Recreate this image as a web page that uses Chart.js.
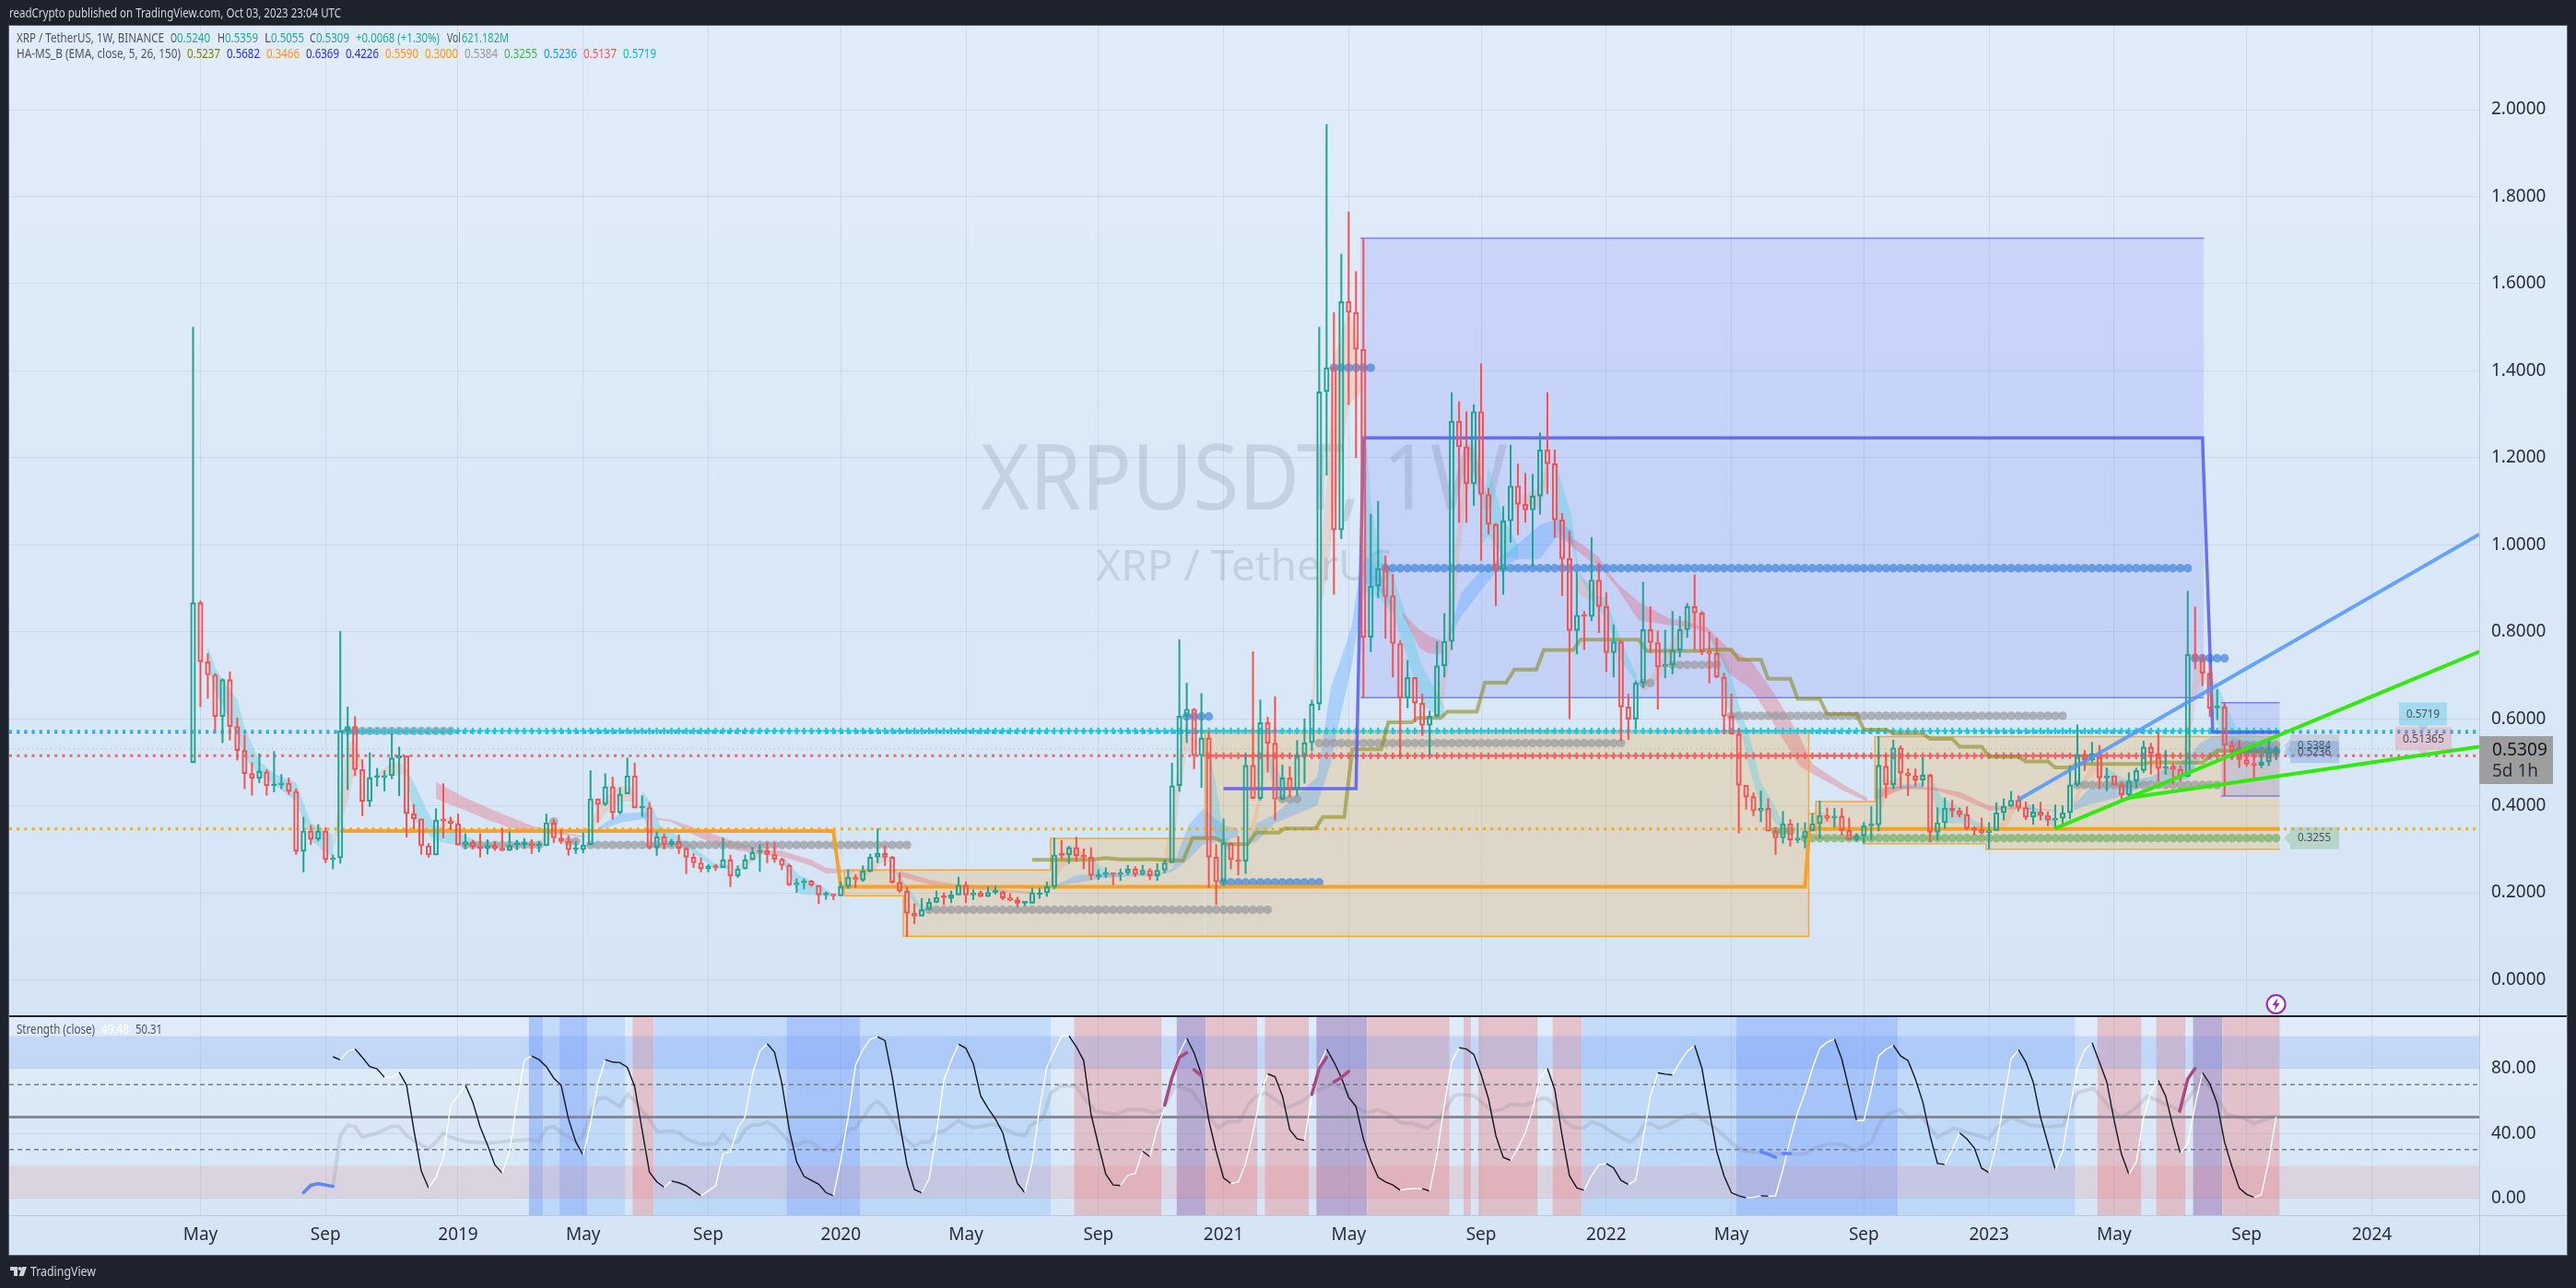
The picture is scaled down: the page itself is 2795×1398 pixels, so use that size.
<!DOCTYPE html>
<html>
<head>
<meta charset="utf-8">
<title>XRPUSDT 1W</title>
<script src="https://cdn.jsdelivr.net/npm/chart.js@4/dist/chart.umd.min.js"></script>
<style>
  html, body { margin: 0; padding: 0; background: #1e222d; }
  canvas { display: block; }
</style>
</head>
<body>
<canvas id="chart" width="2795" height="1398"></canvas>
<script>
// Weekly candles, one value per week starting with the first Binance week
const opens = [
  .499,.867,.731,.701,.605,.690,.582,.527,.474,.463,
  .478,.446,.448,.452,.433,.295,.342,.323,.342,.276,
  .280,.572,.582,.483,.410,.465,.465,.469,.510,.515,
  .382,.370,.308,.287,.368,.365,.359,.310,.316,.306,
  .302,.309,.302,.297,.310,.311,.313,.308,.308,.361,
  .326,.318,.299,.299,.310,.416,.403,.444,.384,.427,
  .469,.395,.396,.304,.329,.311,.318,.302,.282,.269,
  .255,.261,.258,.276,.239,.255,.276,.293,.297,.288,
  .277,.263,.218,.223,.227,.217,.195,.196,.193,.214,
  .236,.229,.249,.282,.291,.282,.224,.204,.153,.146,
  .161,.178,.190,.187,.195,.218,.195,.200,.191,.201,
  .202,.188,.184,.176,.176,.200,.200,.214,.287,.287,
  .304,.284,.282,.241,.242,.246,.242,.246,.255,.242,
  .252,.239,.252,.269,.446,.606,.622,.515,.556,.282,
  .225,.314,.276,.272,.493,.417,.591,.544,.415,.464,
  .438,.515,.545,.634,1.352,1.407,1.034,1.559,1.534,1.449,
  .787,.905,.946,.883,.773,.648,.695,.636,.585,.606,
  .722,.778,1.284,1.225,1.140,1.306,1.116,1.047,.943,1.055,
  1.135,1.093,1.080,1.112,1.218,1.186,1.057,.968,.803,.838,
  .835,.919,.858,.752,.777,.627,.599,.682,.805,.775,
  .720,.724,.758,.805,.858,.843,.754,.750,.696,.606,
  .565,.447,.421,.388,.394,.342,.326,.359,.321,.326,
  .342,.359,.378,.372,.376,.343,.322,.331,.354,.356,
  .491,.448,.533,.475,.469,.459,.471,.339,.361,.395,
  .388,.380,.350,.345,.338,.343,.384,.399,.413,.396,
  .374,.386,.378,.367,.371,.384,.448,.518,.505,.520,
  .464,.469,.448,.425,.457,.481,.535,.520,.486,.491,
  .484,.467,.748,.739,.705,.625,.627,.539,.525,.506,
  .497,.493,.501,.524];
const closes = [
  .867,.731,.701,.605,.690,.582,.527,.474,.463,.480,
  .446,.448,.452,.433,.295,.342,.323,.342,.276,.280,
  .572,.582,.483,.410,.465,.466,.469,.510,.515,.382,
  .370,.308,.287,.367,.365,.359,.310,.316,.306,.302,
  .309,.302,.297,.309,.311,.313,.308,.309,.361,.326,
  .318,.299,.300,.310,.416,.403,.444,.384,.427,.469,
  .395,.396,.304,.329,.311,.318,.302,.282,.269,.255,
  .262,.258,.276,.239,.255,.276,.293,.297,.288,.277,
  .263,.218,.223,.227,.217,.195,.196,.193,.214,.236,
  .231,.250,.282,.291,.282,.224,.204,.153,.146,.161,
  .178,.189,.189,.195,.218,.195,.200,.191,.201,.202,
  .188,.184,.176,.177,.200,.200,.214,.287,.286,.304,
  .285,.282,.240,.241,.246,.242,.246,.255,.242,.252,
  .239,.252,.269,.446,.606,.622,.515,.556,.282,.225,
  .314,.276,.272,.493,.417,.591,.544,.415,.464,.438,
  .515,.545,.634,1.352,1.407,1.034,1.559,1.534,1.449,.787,
  .905,.946,.881,.773,.648,.695,.636,.585,.606,.722,
  .778,1.284,1.225,1.140,1.306,1.116,1.047,.943,1.055,1.135,
  1.093,1.080,1.112,1.218,1.186,1.057,.968,.803,.838,.835,
  .919,.858,.752,.777,.627,.599,.682,.805,.775,.719,
  .725,.758,.805,.858,.843,.754,.750,.696,.606,.565,
  .447,.420,.388,.394,.342,.326,.359,.321,.326,.342,
  .359,.378,.372,.376,.343,.322,.331,.354,.356,.493,
  .448,.533,.475,.469,.459,.471,.339,.361,.395,.388,
  .379,.348,.345,.338,.343,.384,.399,.413,.396,.374,
  .386,.378,.367,.371,.384,.448,.518,.505,.520,.464,
  .469,.448,.425,.457,.481,.535,.520,.486,.490,.484,
  .467,.748,.739,.705,.624,.627,.539,.525,.506,.496,
  .493,.501,.524,.5309];
const highs = [
  1.5,.871,.750,.704,.692,.708,.602,.563,.499,.520,
  .483,.525,.472,.464,.439,.374,.355,.357,.350,.287,
  .801,.627,.605,.506,.522,.486,.481,.566,.535,.515,
  .403,.370,.313,.393,.451,.374,.381,.336,.321,.336,
  .322,.318,.348,.340,.321,.325,.322,.318,.381,.368,
  .345,.331,.318,.338,.481,.416,.474,.466,.442,.510,
  .498,.423,.408,.340,.336,.323,.333,.304,.290,.280,
  .265,.265,.326,.287,.262,.287,.304,.311,.315,.315,
  .280,.266,.232,.232,.229,.217,.202,.197,.225,.253,
  .242,.262,.289,.347,.308,.284,.246,.214,.175,.187,
  .187,.204,.200,.204,.236,.225,.207,.204,.214,.215,
  .204,.198,.190,.180,.211,.211,.225,.326,.320,.307,
  .328,.301,.304,.253,.258,.246,.255,.263,.260,.263,
  .256,.267,.276,.498,.782,.682,.624,.658,.570,.311,
  .370,.315,.329,.519,.754,.643,.604,.651,.494,.490,
  .550,.600,.643,1.50,1.966,1.534,1.668,1.765,1.628,1.705,
  1.070,1.10,.975,.932,.780,.734,.695,.657,.618,.777,
  .842,1.35,1.329,1.306,1.322,1.416,1.13,1.049,1.088,1.229,
  1.186,1.164,1.162,1.257,1.35,1.218,1.072,1.031,.936,.847,
  1.017,.957,.89,.816,.78,.657,.687,.914,.858,.802,
  .804,.847,.835,.865,.931,.847,.799,.785,.705,.657,
  .578,.447,.430,.434,.416,.350,.387,.368,.360,.361,
  .382,.411,.395,.394,.394,.372,.336,.362,.398,.559,
  .517,.551,.538,.485,.485,.511,.473,.396,.418,.413,
  .395,.398,.352,.372,.361,.407,.416,.433,.423,.409,
  .403,.408,.386,.402,.400,.492,.586,.527,.546,.539,
  .487,.469,.453,.476,.487,.549,.544,.568,.527,.497,
  .492,.893,.857,.747,.722,.667,.637,.549,.550,.520,
  .517,.517,.552,.5359];
const lows = [
  .499,.628,.647,.573,.545,.551,.505,.439,.424,.453,
  .424,.432,.439,.426,.288,.248,.311,.319,.269,.255,
  .268,.437,.469,.377,.398,.445,.434,.462,.423,.328,
  .347,.288,.282,.287,.326,.345,.310,.301,.301,.282,
  .289,.297,.296,.297,.299,.303,.290,.294,.308,.315,
  .313,.286,.290,.292,.310,.362,.400,.369,.381,.427,
  .395,.375,.301,.286,.301,.307,.290,.244,.258,.248,
  .248,.251,.258,.214,.235,.255,.276,.249,.269,.270,
  .253,.216,.201,.209,.215,.175,.185,.184,.193,.210,
  .212,.226,.248,.269,.262,.222,.201,.100,.129,.146,
  .161,.177,.173,.177,.195,.177,.184,.191,.191,.197,
  .184,.181,.168,.171,.176,.187,.192,.209,.279,.267,
  .272,.255,.230,.230,.235,.219,.228,.241,.237,.241,
  .230,.228,.246,.269,.433,.545,.485,.442,.212,.173,
  .216,.255,.241,.244,.417,.413,.477,.367,.413,.420,
  .424,.452,.526,.620,1.160,.886,1.014,1.322,1.200,.650,
  .754,.878,.785,.696,.513,.625,.593,.562,.516,.604,
  .696,.759,1.051,1.051,1.090,.964,1.024,.860,.886,1.006,
  1.023,1.052,.950,1.070,1.117,1.017,.883,.600,.749,.759,
  .825,.798,.708,.696,.549,.552,.579,.671,.752,.622,
  .694,.703,.742,.787,.759,.747,.682,.694,.565,.565,
  .337,.392,.377,.363,.342,.288,.314,.307,.315,.303,
  .342,.326,.365,.350,.333,.322,.319,.314,.322,.342,
  .418,.439,.440,.423,.445,.445,.317,.322,.348,.374,
  .374,.345,.333,.336,.301,.343,.367,.398,.388,.368,
  .357,.367,.354,.348,.354,.370,.445,.481,.500,.440,
  .434,.448,.411,.414,.442,.476,.473,.457,.472,.450,
  .457,.467,.715,.676,.605,.598,.423,.506,.488,.491,
  .460,.487,.492,.5055];

// Axis ticks (week numbers for the time axis)
const tickWeeks = [1,18,36,53,70,88,105,123,140,157,175,192,209,227,244,261,279,296];
const tickLabels = ['May','Sep','2019','May','Sep','2020','May','Sep','2021','May','Sep','2022','May','Sep','2023','May','Sep','2024'];
const priceTicks = [0,.2,.4,.6,.8,1,1.2,1.4,1.6,1.8,2];
const strengthTicks = [0,40,80];

// Horizontal levels running across the whole pane
const levelValues = [.5309,.3466,.515,.569,.572];
const crossCyanStart = 21, crossRedStart = 138, lastWeek = 283;

// Orange support boxes and outline
const orangeStart = [88.5,96.5,116.5,137.5,219.5,220.5,226.9,228.5,243.6];
const orangeEnd = [96.5,116.5,137.5,219.5,220.5,226.9,228.5,243.6,283.5];
const orangeTop = [.2527,.2527,.325,.568,.382,.41,.41,.559,.559];
const orangeBottom = [.193,.1,.1,.1,.325,.325,.313,.313,.30];
const orangeTopWeeks = [88.5,88.5,116.5,116.5,137.5,137.5,219.5,219.5,220.5,220.5,228.5,228.5,283.5];
const orangeTopValues = [.193,.2527,.2527,.325,.325,.568,.568,.382,.382,.41,.41,.559,.559];
const orangeLowWeeks = [88.5,96.5,96.5,219.5,219.5];
const orangeLowValues = [.193,.193,.1,.1,.382];
const orangeLow2Weeks = [220.5,220.5,226.9,226.9,243.6,243.6,283.5];
const orangeLow2Values = [.41,.325,.325,.313,.313,.30,.30];

// Blue resistance boxes
const blueStart = [158.6,275.5];
const blueEnd = [273.2,283.5];
const blueTop = [1.705,.637];
const blueBottom = [.6484,.4226];

// Thick steps
const thickOrangeWeeks = [20,87,88,219,219.6,283.5];
const thickOrangeValues = [.342,.342,.214,.214,.3466,.3466];
const thickBlueWeeks = [140,158,159,273,274.4,283.5];
const thickBlueValues = [.4395,.4395,1.2456,1.2456,.569,.569];
const oliveWeeks = [114,122,124,126,130,134.5,135.8,138.8,140.5,143.3,144.4,147.5,148.3,152.5,153.5,156.4,157.5,161.4,162.4,165.6,166.4,169.5,170.4,174.4,175.5,178.4,179.5,182.5,183.5,187.5,188.5,196.4,197.5,205,206,209,210,213,214,217,218,221,222,226,227,230,231,235,236,239,240,243,244,248,249,252,253,255,256,265,266,273,275,283.5];
const oliveValues = [.276,.276,.280,.277,.277,.274,.326,.326,.312,.312,.338,.338,.348,.348,.374,.374,.530,.530,.592,.592,.602,.602,.616,.616,.683,.683,.713,.713,.758,.758,.782,.782,.756,.756,.759,.759,.736,.736,.692,.692,.646,.646,.611,.611,.575,.575,.566,.566,.554,.554,.536,.536,.513,.513,.502,.502,.488,.488,.496,.496,.500,.499,.527,.5237];

// Dot rows: first week, last week, price
const blueDotStart = [135,155,162,140,272,278];
const blueDotEnd = [138,160,271,153,276,283];
const blueDotValue = [.605,1.407,.946,.224,.739,.526];
const grayDotStart = [21,37,49,51,54,100,148,153,197,201,209,256,277];
const grayDotEnd = [35,47,49,52,97,146,150,194,198,207,254,275,283];
const grayDotValue = [.572,.310,.364,.318,.310,.161,.415,.544,.682,.724,.607,.448,.540];
const greenDotStart = [215,219];
const greenDotEnd = [217,283];
const greenDotValue = [.342,.3255];

// Ribbon pieces: cyan = fast falling, tan = fast rising, pink = slow falling, blue = slow rising
const cyanWeeks = [[2,3,4,6,7,9,11,14,16,19],[28.9,30,32.8,36.7,39.2],[61,62.1,63.5,66.9,70.8,73],[80.2,82.3,84.4,87.3],[94.4,96.9,98.6,99.8],[122.4,124,126.1],[138,139,140,141],[146,147,148.5],[159,160,161,163,165,167,170],[175,176,178,180],[185.3,187.3,188.3,190.6,192,194,196.2],[206.2,208.4,210.1,211.7,213,215,216.3],[236.3,237.6,240.1,241.8,244.2],[248.9,251,253],[259.7,261.8,263.5],[273.5,275.2,276.6,277.8,282.6]];
const cyanUpper = [[.768,.719,.69,.644,.581,.503,.474,.453,.361,.333],[.488,.453,.354,.333,.315],[.435,.41,.354,.318,.269,.262],[.283,.241,.226,.195],[.280,.219,.177,.163],[.276,.248,.241],[.53,.45,.33,.32],[.537,.49,.45],[1.36,1.10,1.0,.93,.83,.72,.63],[1.06,1.18,1.06,1.0],[1.179,1.066,.939,.883,.879,.777,.699],[.791,.733,.629,.544,.453,.396,.347],[.46,.418,.396,.368,.347],[.41,.389,.368],[.492,.467,.453],[.711,.672,.616,.573,.552]];
const cyanLower = [[.72,.66,.63,.56,.51,.47,.45,.41,.32,.28],[.481,.368,.32,.305,.304],[.382,.334,.320,.305,.255,.255],[.269,.198,.195,.191],[.275,.20,.163,.157],[.241,.236,.236],[.38,.33,.30,.30],[.50,.42,.41],[.90,.88,.88,.84,.74,.63,.60],[1.0,1.02,.97,.97],[1.03,1.0,.93,.86,.83,.734,.68],[.78,.628,.58,.47,.40,.36,.34],[.42,.36,.36,.355,.34],[.39,.37,.35],[.46,.44,.425],[.672,.574,.56,.54,.53]];

const tanWeeks = [[19,21,22,23],[25,27,28,29],[33,34,35,36],[47,48,49,50],[54,56,58,60],[74,76,78],[90,92,94],[116,117,118,120,121],[132,133,134,135,135.7,136.6],[143.3,144.7,145.8],[152,153,154,155,156,157,158,159],[169,170,171,172,173,174,175],[179.3,180.4,182.8,184.1],[188,190,191],[197,199,201,203,205],[220,221,222,224],[228.4,229,230,232],[245,246.3,247.6,248.4],[255,257.2,258,258.9],[266,268,270],[270,271,272,273,273.8]];
const tanUpper = [[.31,.549,.545,.50],[.474,.499,.499,.488],[.34,.37,.375,.36],[.315,.34,.355,.35],[.368,.418,.446,.442],[.26,.285,.31],[.24,.27,.29],[.215,.255,.29,.304,.29],[.29,.382,.524,.602,.56,.545],[.325,.417,.53],[.63,.96,1.14,1.43,1.48,1.54,1.48,1.36],[.664,.71,.946,1.06,1.22,1.23,1.186],[1.03,1.11,1.13,1.2],[.93,.91,.92],[.68,.72,.78,.84,.84],[.35,.39,.38,.35],[.361,.418,.453,.467],[.347,.382,.418,.418],[.396,.474,.499,.517],[.50,.49,.48],[.467,.595,.736,.743,.672]];
const tanLower = [[.30,.41,.48,.50],[.464,.47,.47,.474],[.33,.345,.365,.355],[.31,.32,.34,.345],[.34,.382,.41,.41],[.255,.27,.30],[.225,.245,.275],[.21,.22,.255,.28,.283],[.26,.26,.418,.524,.52,.54],[.311,.375,.50],[.544,.84,.92,1.06,1.186,1.32,1.34,1.356],[.6,.65,.777,.97,1.11,1.165,1.14],[1.03,1.095,1.08,1.15],[.89,.87,.90],[.66,.69,.74,.81,.82],[.34,.35,.36,.34],[.35,.37,.42,.445],[.34,.35,.39,.405],[.38,.455,.47,.48],[.49,.47,.46],[.46,.50,.64,.70,.672]];

const pinkWeeks = [[33,37,40,43,46,51,53.5],[63,65,68,71,74,78,80,84,86,90],[96,100,104,110,114],[164.3,166.6,167.9,169.6],[187,190,191,193.5,196.4,200.3,203,205.8,208.5,211.7,214.5,218.3,220,224.5,227.5],[228.6,232.5,236.8,240,244,249,253.4]];
const pinkUpper = [[.455,.418,.396,.375,.354,.336,.329],[.372,.368,.350,.333,.315,.297,.297,.276,.258,.251],[.251,.230,.218,.207,.202],[.844,.805,.791,.78],[1.02,.985,.971,.911,.869,.833,.823,.809,.763,.733,.666,.559,.496,.446,.418],[.439,.446,.442,.432,.400,.396,.389]];
const pinkLower = [[.416,.389,.368,.350,.340,.332,.327],[.368,.363,.333,.311,.297,.287,.283,.262,.244,.248],[.237,.219,.211,.202,.198],[.84,.763,.75,.749],[1.0,.96,.953,.90,.826,.816,.812,.798,.706,.668,.595,.49,.474,.432,.41],[.414,.439,.435,.418,.389,.393,.387]];

const skyWeeks = [[55,58,62],[90,92,94],[117,120,124,131,133,135.2,137.2,140.2,142],[143.3,144.5,147,152.7,154.6,155.6,157.4,158.6,159.5,161,163],[170.3,172.3,174.5,177.3,180.1,183,185.2,187.4],[230,232.5,235],[255.5,257.6,261.8,266,271,272.7,274.3,276,283]];
const skyUpper = [[.350,.382,.386],[.25,.256,.252],[.216,.241,.244,.244,.255,.354,.393,.354,.347],[.318,.36,.381,.466,.674,.72,.812,.953,.97,.95,.855],[.777,.890,.932,.967,1.003,1.045,1.059,1.031],[.442,.449,.453],[.403,.439,.453,.467,.510,.545,.559,.563,.531]];
const skyLower = [[.343,.361,.372],[.248,.25,.25],[.215,.223,.235,.240,.248,.276,.311,.319,.33],[.311,.318,.36,.40,.50,.586,.72,.85,.911,.90,.85],[.775,.835,.885,.943,.967,.967,1.017,1.0],[.439,.439,.442],[.389,.403,.421,.453,.46,.510,.503,.538,.524]];

// Hand-drawn trend lines, week and price at both ends
const blueTrendWeeks = [248,310.6];
const blueTrendValues = [.414,1.024];
const greenUpWeeks = [253,310.6];
const greenUpValues = [.348,.754];
const greenFlatWeeks = [263,310.6];
const greenFlatValues = [.418,.536];

// Strength pane: line per week from week 19 on
const strengthFirstWeek = 19;
const strengthValues = [
  87.2,85.3,90.6,92.1,86.8,81.1,79.8,74.5,74.5,77.7,
  69.7,42,16.7,6.3,12.9,25.2,57.4,63.1,69.7,59.3,
  44,32.8,20.5,15.4,29,59.3,84.9,87.7,85.4,81.1,
  74,69.7,48.9,34.7,26.5,46,70.7,85.4,83.9,83.6,
  80.7,68.8,42.3,16.1,10.1,6.7,10.6,9.5,7.8,4.5,
  1.5,4.5,7.8,27.5,28.6,43.2,50.2,76.4,90.6,95.3,
  90,70.7,42.3,22.4,13.5,11,8.6,3.4,1.5,23.3,
  49.8,82,91.5,98.1,99.5,97.2,74.5,46,20.5,5.3,
  3.4,11.9,40.4,72.6,84.9,94.9,92.4,83,63.1,55.5,
  48.9,40.4,23.3,9.1,3.4,22.4,55.5,81,90.5,100,
  100,93.4,84.9,51.7,32.8,14.8,8.2,7.8,14.2,15.2,
  29,25.6,43.2,55.5,76.3,89.6,98.7,89.6,76.3,47.9,
  29,12.5,9.1,10,21.4,40.4,63.1,76.7,74.8,63.1,
  42.2,36.6,35.6,63.1,82,92,83.9,74.4,62.1,56.5,
  36.6,23.3,12.9,10,8.2,4.9,5.7,5.9,5.9,4.4,
  27.1,57.4,83.9,92.8,92,88.7,76.3,61.2,38.5,25.2,
  23.3,30.9,40.4,54.6,74.4,80.1,66.9,38.5,13.8,6.3,
  4.9,13.8,20.5,21.4,18.6,11,8.5,11,36.6,63.1,
  77.3,76.5,76,83.9,90.5,94.3,80.1,53.6,29,13.8,
  3.4,1.5,.2,.6,1.5,1.2,1.5,17.6,36.6,52.7,
  65,80.1,92.4,96.2,98.1,85.8,66.8,47.9,47.9,66.8,
  87.7,91.8,94.3,87.7,84.8,73.5,59.3,38.4,21.4,20.8,
  29.9,40.3,36.5,30.9,18.5,15.7,32.8,59.3,85.8,91.5,
  83.9,71.6,49.8,33.7,17.6,29,55.5,80.1,91.5,95.8,
  83.9,71.6,47.9,27.1,14.8,22.3,49.8,65.9,72.5,63,
  44.1,27.6,33.7,57.4,77.3,70.6,58.3,34.6,19.5,6.2,
  2.4,.5,2.1,23.3,50.4];
const strengthAvgWeeks = [19,20,21,22,23,24,25,27,28,29,31,32,33,34,35,37,40,43,46,47,48,49,50,52,53,54,55,56,57,58,59,60,61,62,63,65,66,67,68,69,71,72,73,74,75,76,77,78,79,80,81,82,83,84,85,86,87,88,89,90,91,92,93,94,95,96,97,98,99,100,101,102,104,105,106,107,108.6,110,111.8,113,113.8,115.4,116.6,117.8,120,121,122.6,123.8,125.4,127,129,130.6,131.8,133.4,135.7,138.1,139.3,140.5,142.1,143.3,144.5,145.7,146.9,148.5,150.9,152.1,154.9,156.5,158.1,159.7,160.9,162.5,164.1,165.7,167.7,169.3,171.3,172.1,174.1,175.3,176.5,177.7,178.9,180.9,182,183.3,184.1,185.3,186.5,187.6,188.9,190,191.3,192.9,194,195.3,196.3,197.2,198,199.2,200.4,202.8,204,205.6,206.8,208,209.6,210.8,214,216.4,218.8,220.8,222.4,224.2,225.8,228,229.3,230.6,231.9,233.1,234.7,237,239.2,241.1,244,245.2,247,249.6,252.2,254.1,256,258.2,260.5,262,263.9,265.5,267.4,269.9,273.1,274.3,276.3,278.8,280,282.9];
const strengthAvgValues = [7,38.5,45,44,37.5,38.9,40,44.5,44.2,38.5,32.8,30.5,34.7,40,37.5,35,34,35.2,36.2,35,43.2,44.2,40.4,35,38.5,52.7,61.2,62.2,59.3,56.5,64,60.3,53.6,48.9,41,41.3,40.4,36.6,34.7,33.2,33.5,39.4,34.7,34.7,42.3,45.1,45.1,47,44.2,39.4,34.7,32.8,34.7,34.7,30.9,29.6,29.4,33.8,42.3,43.2,49.8,56.5,59.9,55.5,48,40.4,35.6,31.9,34.7,34.7,40.4,41.3,47.9,45.1,43.6,44.1,45.7,43.2,39.4,38.5,45.1,48.9,65,69.1,69.1,62.1,53.6,52.7,51.7,54.6,54.6,52.7,54.6,69.7,66,49.8,43.2,47,47,57.4,63.1,65,61.2,55.5,60.2,65,70.7,66.9,55.5,52.7,54.6,51.7,46.4,46,43.2,48.9,63.1,64,63.1,58.3,53.6,54.6,57.8,57.4,59.3,61.6,61.2,55.5,47,43.6,43.2,47,45.1,40.4,37.5,34.7,38.5,46,46,43.2,45.1,50.8,51.7,47,43.2,38.5,31.8,29,27.7,27.1,27.1,31.8,33.7,32.8,29,34.6,47.9,52.6,54.5,49.8,50.7,37.5,43.2,40.3,36.5,44.1,49.8,45.1,44.1,45.1,65,67.8,55.5,49.8,55.5,63,59.3,54,74.4,66.8,51.7,48.9,46,50.7];
const purpleWeeks = [[132,133,134,135],[136,137],[152,153,154],[155,156,157],[269.9,271,272]];
const purpleValues = [[57.4,74.4,86.8,89.6],[79.2,75.4],[64,80.1,86.8],[71.6,74.4,78.2],[53.6,73.5,80.1]];
const strengthBlueWeeks = [[15,16,17,19],[213,214,215],[216,217]];
const strengthBlueValues = [[3.4,8,9,7.2],[28.6,27.1,25.2],[27.5,27.5]];
const strengthLevels = [70,50,30];

// Background zones of the strength pane: first week, last week, kind
const zoneStart = [45.6,47.6,49.7,53.6,59.7,62.6,80.6,90.6,119.7,133.6,137.6,145.6,152.6,159.5,172.6,174.6,184.7,188.7,209.6,231.6,258.7,266.7,271.7,275.7];
const zoneEnd = [47.6,49.7,53.6,58.7,62.6,80.6,90.6,116.5,131.6,137.6,144.6,151.6,159.5,170.7,173.6,182.7,188.7,209.6,231.6,255.7,264.7,270.7,275.7,283.5];
const zoneKind = ['mid','light','mid','light','pink','light','mid','light','pink','purple','pink','pink','purple','pink','pink','pink','pink','light','mid','light','pink','pink','purple','pink'];

// Text
const headerText = 'readCrypto published on TradingView.com, Oct 03, 2023 23:04 UTC';
const legendValues = ['0.5237','0.5682','0.3466','0.6369','0.4226','0.5590','0.3000','0.5384','0.3255','0.5236','0.5137','0.5719'];

const teal = '#22a393', red = '#f55252';
const weekMin = -24.98, weekMax = 310.6;
const priceMin = -0.0837, priceMax = 2.195;
const strengthMin = -10.5, strengthMax = 112.2;
const font = '"Noto Sans", sans-serif';

const datasets = [];
function add(ds) {
  // later additions are painted on top
  ds.order = -datasets.length;
  datasets.push(ds);
  return ds;
}
function pts(xs, ys) { return xs.map((x, i) => ({x, y: ys[i]})); }
function line(xs, ys, color, width, extra) {
  return add(Object.assign({type: 'line', data: pts(xs, ys), borderColor: color, borderWidth: width,
    pointRadius: 0, fill: false, tension: 0, yAxisID: 'y'}, extra));
}
function rect(x0, x1, top, bottom, color, axis) {
  add({type: 'line', yAxisID: axis || 'y', data: pts([x0, x1], [top, top]), borderWidth: 0, pointRadius: 0,
    fill: {value: bottom}, backgroundColor: color});
}
function ribbons(weeks, upper, lower, color) {
  weeks.forEach((w, k) => {
    add({type: 'line', yAxisID: 'y', data: pts(w, upper[k]), borderWidth: 0, pointRadius: 0, fill: '+1', backgroundColor: color});
    add({type: 'line', yAxisID: 'y', data: pts(w, lower[k]), borderWidth: 0, pointRadius: 0, fill: false});
  });
}
function dots(starts, ends, values, color) {
  starts.forEach((s, k) => {
    const data = [];
    for (let w = s; w <= ends[k]; w++) data.push({x: w, y: values[k]});
    add({type: 'line', yAxisID: 'y', data, showLine: false, pointRadius: 4.7, pointBorderWidth: 0, pointBackgroundColor: color});
  });
}

// strength pane background
const zoneColors = {light: 'rgba(100,165,255,.22)', mid: 'rgba(60,120,255,.33)', pink: 'rgba(240,90,90,.28)', purple: 'rgba(130,70,150,.38)'};
zoneStart.forEach((s, k) => rect(s, zoneEnd[k], strengthMax, strengthMin, zoneColors[zoneKind[k]], 'y2'));
rect(weekMin, 310.6, 100, 80, 'rgba(90,140,245,.2)', 'y2');
rect(weekMin, 310.6, 20, 0, 'rgba(240,120,120,.17)', 'y2');
strengthLevels.forEach((v, k) => line([weekMin, weekMax], [v, v], k === 1 ? '#868a94' : '#787b86', k === 1 ? 3 : 1.5,
  {yAxisID: 'y2', borderDash: k === 1 ? [] : [5, 4]}));
line(strengthAvgWeeks, strengthAvgValues, 'rgba(120,123,134,.2)', 4, {yAxisID: 'y2'});
line(strengthValues.map((v, i) => strengthFirstWeek + i), strengthValues, '#131722', 1.4, {yAxisID: 'y2',
  segment: {borderColor: c => c.p1.parsed.y >= c.p0.parsed.y ? '#ffffff' : '#131722'}});
purpleWeeks.forEach((w, k) => line(w, purpleValues[k], '#a84a80', 3.5, {yAxisID: 'y2', borderCapStyle: 'round'}));
strengthBlueWeeks.forEach((w, k) => line(w, strengthBlueValues[k], '#5f86f2', 3.5, {yAxisID: 'y2', borderCapStyle: 'round'}));

// boxes
orangeStart.forEach((s, k) => rect(s, orangeEnd[k], orangeTop[k], orangeBottom[k], 'rgba(255,152,0,.19)'));
blueStart.forEach((s, k) => rect(s, blueEnd[k], blueTop[k], blueBottom[k], 'rgba(80,90,255,.15)'));

// ribbons
ribbons(cyanWeeks, cyanUpper, cyanLower, 'rgba(90,205,225,.38)');
ribbons(tanWeeks, tanUpper, tanLower, 'rgba(255,140,80,.22)');
ribbons(pinkWeeks, pinkUpper, pinkLower, 'rgba(235,80,100,.3)');
ribbons(skyWeeks, skyUpper, skyLower, 'rgba(80,160,255,.33)');

// level lines
const levelColors = ['rgba(120,123,134,.45)', '#f7a52b', '#ff5f66', '#5f63f6', '#26c6da'];
levelValues.forEach((v, k) => line([weekMin, weekMax], [v, v], levelColors[k], k === 0 ? 1 : 3,
  {borderDash: k === 0 ? [1, 4] : [3, 5.2]}));

// orange outline and thin blue outlines
line(orangeTopWeeks, orangeTopValues, '#f7a733', 1.5);
line(orangeLowWeeks, orangeLowValues, '#f7a733', 1.5);
line(orangeLow2Weeks, orangeLow2Values, '#f7a733', 1.5);
blueStart.forEach((s, k) => {
  line([s, blueEnd[k]], [blueTop[k], blueTop[k]], '#7b80ee', 1.5);
  line([s, blueEnd[k]], [blueBottom[k], blueBottom[k]], '#7b80ee', 1.5);
});

// dot rows
dots(grayDotStart, grayDotEnd, grayDotValue, 'rgba(150,150,155,.68)');
dots(blueDotStart, blueDotEnd, blueDotValue, 'rgba(66,135,220,.72)');
dots(greenDotStart, greenDotEnd, greenDotValue, 'rgba(110,175,100,.68)');

// cross rows
function crossRow(start, value, color) {
  const data = [];
  for (let w = start; w <= lastWeek; w++) data.push({x: w, y: value});
  add({type: 'line', yAxisID: 'y', data, showLine: false,
    pointStyle: 'cross', pointRadius: 3.6, pointBorderWidth: 2.4, pointBorderColor: color, fill: false});
}
crossRow(crossRedStart, levelValues[2], '#ff5f66');
crossRow(crossCyanStart, levelValues[4], '#26c6da');

// thick steps
line(oliveWeeks, oliveValues, 'rgba(140,140,30,.6)', 4);
line(thickOrangeWeeks, thickOrangeValues, '#f7a125', 4);
line(thickBlueWeeks, thickBlueValues, 'rgba(85,90,245,.85)', 3.5);

// candles
const weeks = opens.map((o, i) => i);
const candleColors = weeks.map(i => closes[i] >= opens[i] ? teal : red);
const barBase = {type: 'bar', yAxisID: 'y', grouped: false, borderSkipped: false};
add(Object.assign({}, barBase, {data: weeks.map(i => ({x: i, y: [Math.max(opens[i], closes[i]), highs[i]]})),
  backgroundColor: candleColors, barThickness: 1.4, borderWidth: 0}));
add(Object.assign({}, barBase, {data: weeks.map(i => ({x: i, y: [lows[i], Math.min(opens[i], closes[i])]})),
  backgroundColor: candleColors, barThickness: 1.4, borderWidth: 0}));
add(Object.assign({}, barBase, {data: weeks.map(i => ({x: i, y: [opens[i], closes[i]]})),
  backgroundColor: 'rgba(255,255,255,.02)', borderColor: candleColors, barThickness: 5.5, borderWidth: 1.5, minBarLength: 2}));

// trend lines
line(blueTrendWeeks, blueTrendValues, 'rgba(80,150,250,.85)', 4);
line(greenFlatWeeks, greenFlatValues, '#33e80f', 4);
line(greenUpWeeks, greenUpValues, '#33e80f', 4);

function text(ctx, str, x, y, maxWidth, color, size) {
  ctx.fillStyle = color;
  ctx.font = size + 'px ' + font;
  ctx.fillText(str, x, y, maxWidth);
}

const paneChrome = {
  id: 'paneChrome',
  beforeDraw(chart) {
    const ctx = chart.ctx, yMain = chart.scales.y, ySub = chart.scales.y2;
    ctx.save();
    ctx.fillStyle = '#1e222d';
    ctx.fillRect(0, 0, chart.width, chart.height);
    const g1 = ctx.createLinearGradient(0, yMain.top, 0, yMain.bottom);
    g1.addColorStop(0, '#e0ecf9');
    g1.addColorStop(1, '#d5e5f5');
    ctx.fillStyle = g1;
    ctx.fillRect(10, yMain.top, 2775, yMain.bottom - yMain.top);
    const g2 = ctx.createLinearGradient(0, ySub.top, 0, ySub.bottom);
    g2.addColorStop(0, '#dfebf8');
    g2.addColorStop(1, '#d6e6f5');
    ctx.fillStyle = g2;
    ctx.fillRect(10, ySub.top, 2775, ySub.bottom - ySub.top);
    ctx.fillStyle = '#d5e5f5';
    ctx.fillRect(10, ySub.bottom, 2775, 43);
    ctx.restore();
  },
  beforeDatasetsDraw(chart) {
    const ctx = chart.ctx, area = chart.chartArea;
    const cx = (area.left + area.right) / 2;
    ctx.save();
    ctx.textAlign = 'center';
    ctx.textBaseline = 'middle';
    ctx.fillStyle = 'rgba(110,125,145,.22)';
    ctx.font = '98px ' + font;
    ctx.fillText('XRPUSDT, 1W', cx, 525, 572);
    ctx.font = '46px ' + font;
    ctx.fillText('XRP / TetherUS', cx, 617, 330);
    ctx.restore();
  },
  afterDraw(chart) {
    const ctx = chart.ctx, yMain = chart.scales.y, ySub = chart.scales.y2, x = chart.scales.x;
    ctx.save();

    // pane frames
    ctx.strokeStyle = '#b9c9da';
    ctx.lineWidth = 1;
    ctx.beginPath();
    ctx.moveTo(2690.5, 27); ctx.lineTo(2690.5, 1362);
    ctx.moveTo(10, ySub.bottom + .5); ctx.lineTo(2785, ySub.bottom + .5);
    ctx.stroke();
    ctx.strokeStyle = '#5d606b';
    ctx.strokeRect(9.5, 27.5, 2776, 1335);
    ctx.strokeStyle = '#1e222d';
    ctx.lineWidth = 2;
    ctx.beginPath();
    ctx.moveTo(10, ySub.top); ctx.lineTo(2785, ySub.top);
    ctx.stroke();

    // callouts next to the last bars
    ctx.textBaseline = 'middle';
    const leftCallout = (value, color) => {
      const py = yMain.getPixelForValue(value);
      ctx.fillStyle = color;
      ctx.beginPath();
      ctx.moveTo(2478, py); ctx.lineTo(2485, py - 7); ctx.lineTo(2485, py - 12); ctx.lineTo(2538, py - 12);
      ctx.lineTo(2538, py + 12); ctx.lineTo(2485, py + 12); ctx.lineTo(2485, py + 7);
      ctx.closePath();
      ctx.fill();
      text(ctx, value.toFixed(4), 2493, py, 36, '#4a4e59', 13);
    };
    leftCallout(.5384, 'rgba(150,150,155,.28)');
    leftCallout(.5236, 'rgba(66,135,220,.3)');
    leftCallout(.3255, 'rgba(110,175,100,.3)');
    const downCallout = (label, value, x0, x1, color) => {
      const py = yMain.getPixelForValue(value);
      ctx.fillStyle = color;
      ctx.beginPath();
      ctx.moveTo((x0 + x1) / 2, py); ctx.lineTo((x0 + x1) / 2 - 6, py - 6); ctx.lineTo(x0, py - 6);
      ctx.lineTo(x0, py - 31); ctx.lineTo(x1, py - 31); ctx.lineTo(x1, py - 6); ctx.lineTo((x0 + x1) / 2 + 6, py - 6);
      ctx.closePath();
      ctx.fill();
      text(ctx, label, x0 + 8, py - 18, x1 - x0 - 16, '#4a4e59', 13);
    };
    downCallout('0.5719', .5719, 2603, 2655, 'rgba(70,195,225,.36)');
    downCallout('0.51365', .515, 2599, 2660, 'rgba(240,90,100,.24)');

    // last price tag
    ctx.fillStyle = '#9e9e9e';
    ctx.fillRect(2690, 799, 80, 52);
    text(ctx, '0.5309', 2704, 814, 60, '#131722', 20);
    text(ctx, '5d 1h', 2704, 837, 50, '#2a2e39', 20);

    // session break marker
    const bx = x.getPixelForValue(lastWeek), by = ySub.top - 13;
    ctx.fillStyle = '#ffffff';
    ctx.strokeStyle = '#9c27b0';
    ctx.lineWidth = 2;
    ctx.beginPath();
    ctx.arc(bx, by, 10, 0, Math.PI * 2);
    ctx.fill();
    ctx.stroke();
    ctx.fillStyle = '#9c27b0';
    ctx.beginPath();
    ctx.moveTo(bx + 2, by - 7); ctx.lineTo(bx - 4, by + 1); ctx.lineTo(bx - .5, by + 1);
    ctx.lineTo(bx - 2, by + 7); ctx.lineTo(bx + 4, by - 1); ctx.lineTo(bx + .5, by - 1);
    ctx.closePath();
    ctx.fill();

    // header and footer
    text(ctx, headerText, 10, 15, 360, '#d1d4dc', 14);
    text(ctx, 'TradingView', 33, 1381, 71, '#d1d4dc', 15);
    ctx.fillStyle = '#d1d4dc';
    ctx.fillRect(11, 1375, 8, 4);
    ctx.fillRect(15, 1375, 4, 10);
    ctx.beginPath();
    ctx.arc(21.5, 1377, 2, 0, Math.PI * 2);
    ctx.fill();
    ctx.beginPath();
    ctx.moveTo(24, 1375); ctx.lineTo(29, 1375); ctx.lineTo(25.5, 1385); ctx.lineTo(20.5, 1385);
    ctx.closePath();
    ctx.fill();

    // legend rows
    const grey = '#50535e', tv = '#26a69a';
    text(ctx, 'XRP / TetherUS, 1W, BINANCE', 18, 42, 160, grey, 14);
    [['O', 185, 7], ['H', 236, 8], ['L', 287, 7], ['C', 336, 7]].forEach(r => text(ctx, r[0], r[1], 42, r[2], grey, 14));
    [['0.5240', 192], ['0.5359', 244], ['0.5055', 294], ['0.5309', 343]].forEach(r => text(ctx, r[0], r[1], 42, 36, tv, 14));
    text(ctx, '+0.0068 (+1.30%)', 386, 42, 91, tv, 14);
    text(ctx, 'Vol', 485, 42, 15, grey, 14);
    text(ctx, '621.182M', 501, 42, 51, tv, 14);
    text(ctx, 'HA-MS_B (EMA, close, 5, 26, 150)', 18, 59, 178, grey, 14);
    const legendColors = ['#808000', '#2a2aff', '#ff9800', '#2a2aff', '#2a2aff', '#ff9800', '#ff9800', '#9598a1', '#4caf50', '#2196f3', '#ff5252', '#00bcd4'];
    legendValues.forEach((v, k) => text(ctx, v, 203 + 43 * k, 59, 36, legendColors[k], 14));
    text(ctx, 'Strength (close)', 18, 1118, 85, grey, 14);
    text(ctx, '49.48', 110, 1118, 30, '#ffffff', 14);
    text(ctx, '50.31', 147, 1118, 29, grey, 14);
    ctx.restore();
  }
};

new Chart(document.getElementById('chart'), {
  data: {datasets},
  plugins: [paneChrome],
  options: {
    responsive: false,
    animation: false,
    layout: {padding: {left: 10, top: 27, right: 10, bottom: 36}},
    plugins: {legend: {display: false}, tooltip: {enabled: false}},
    scales: {
      x: {
        type: 'linear', min: weekMin, max: weekMax, position: 'bottom', offset: false,
        afterBuildTicks: s => { s.ticks = tickWeeks.map(value => ({value})); },
        afterFit: s => { s.height = 43; },
        grid: {color: 'rgba(90,110,130,.13)', drawTicks: false, offset: false},
        border: {display: false},
        ticks: {
          autoSkip: false, maxRotation: 0, padding: 10,
          color: '#2a2e39',
          font: {family: font, size: 19},
          callback: (v, i) => tickLabels[i]
        }
      },
      y: {
        type: 'linear', position: 'right', stack: 'panes', stackWeight: 1076, min: priceMin, max: priceMax,
        afterBuildTicks: s => { s.ticks = priceTicks.map(value => ({value})); },
        afterFit: s => { s.width = 95; },
        grid: {color: 'rgba(90,110,130,.13)', drawTicks: false},
        border: {display: false},
        ticks: {padding: 13, color: '#2a2e39', font: {family: font, size: 19}, callback: v => v.toFixed(4)}
      },
      y2: {
        type: 'linear', position: 'right', stack: 'panes', stackWeight: 216, min: strengthMin, max: strengthMax,
        afterBuildTicks: s => { s.ticks = strengthTicks.map(value => ({value})); },
        afterFit: s => { s.width = 95; },
        grid: {color: 'rgba(90,110,130,.13)', drawTicks: false},
        border: {display: false},
        ticks: {padding: 13, color: '#2a2e39', font: {family: font, size: 19}, callback: v => v.toFixed(2)}
      }
    }
  }
});
</script>
</body>
</html>
